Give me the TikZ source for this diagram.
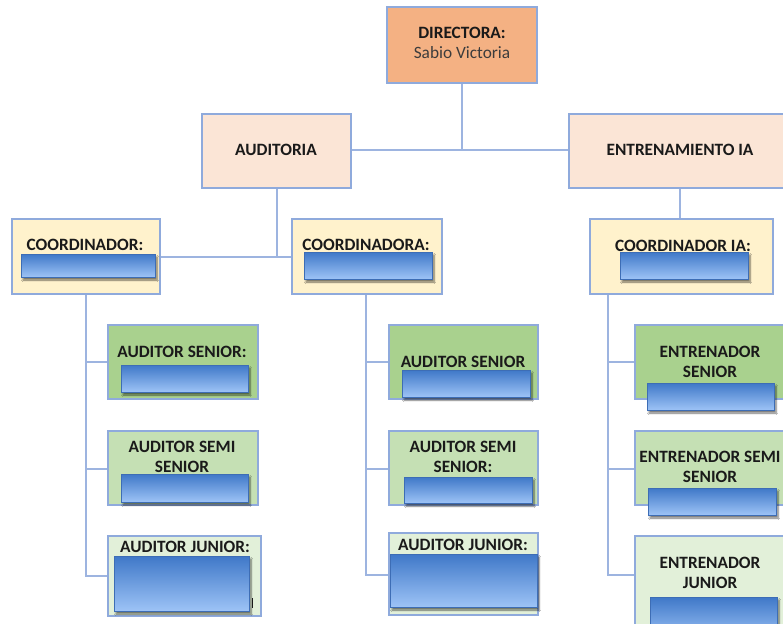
\documentclass[tikz,border=0pt]{standalone}
\usepackage{fontspec}
\setmainfont{Carlito}
\usetikzlibrary{shadows.blur}
\definecolor{edge}{HTML}{8FAADC}
\definecolor{wire}{HTML}{9DB4E0}
\definecolor{dirfill}{HTML}{F4B183}
\definecolor{areafill}{HTML}{FBE5D6}
\definecolor{coordfill}{HTML}{FFF2CC}
\definecolor{srfill}{HTML}{A9D18E}
\definecolor{semifill}{HTML}{C5E0B4}
\definecolor{jrfill}{HTML}{E2F0D9}
\definecolor{bartop}{HTML}{3F78C8}
\definecolor{barbot}{HTML}{9DC3F6}
\definecolor{barline}{HTML}{3D6DB5}
\definecolor{ink}{HTML}{1A1A1A}
\tikzset{
  box/.style={draw=edge, line width=1.1pt},
  wireline/.style={draw=wire, line width=1.6pt},
  bar/.style={draw=barline, line width=1pt, top color=bartop, bottom color=barbot,
    blur shadow={shadow xshift=2pt, shadow yshift=-3pt, shadow blur steps=6, shadow opacity=55}},
  lbl/.style={text=ink, font=\fontsize{17.3}{20}\selectfont\bfseries, align=center, inner sep=0pt},
  lblr/.style={text=ink!85, font=\fontsize{17.3}{20}\selectfont, align=center, inner sep=0pt}
}
\begin{document}
\begin{tikzpicture}[x=1pt,y=-1pt]
\useasboundingbox (0,0) rectangle (783,623);
\clip (0,0) rectangle (783,623);
\fill[white] (0,0) rectangle (783,623);

% connectors
\coordinate (topjoin) at (462,150);
\coordinate (audjoin) at (277,257);
\draw[wireline] (462,83) -- (topjoin);
\draw[wireline] (351,150) -- (569,150);
\draw[wireline] (277,188) -- (audjoin);
\draw[wireline] (160,257) -- (292,257);
\draw[wireline] (680,188) -- (680,219);
% left column spine
\draw[wireline] (86,294) -- (86,576) -- (108,576);
\draw[wireline] (86,362) -- (108,362);
\draw[wireline] (86,469) -- (108,469);
% middle column spine
\draw[wireline] (366,294) -- (366,575) -- (389,575);
\draw[wireline] (366,362) -- (389,362);
\draw[wireline] (366,469) -- (389,469);
% right column spine
\draw[wireline] (608,294) -- (608,575) -- (635,575);
\draw[wireline] (608,362) -- (635,362);
\draw[wireline] (608,469) -- (635,469);

% top levels
\draw[box, fill=dirfill] (387,7) rectangle (537,83);
\node[lbl] (dir) at (462,33) {DIRECTORA:};
\node[lblr] (dirname) at (462,53) {Sabio Victoria};

\draw[box, fill=areafill] (202,114) rectangle (351,188);
\node[lbl] (aud) at (276,150) {AUDITORIA};
\draw[box, fill=areafill] (569,114) rectangle (790,188);
\node[lbl] (ent) at (680,150) {ENTRENAMIENTO IA};

% coordinators
\draw[box, fill=coordfill] (12,219) rectangle (160,294);
\node[lbl] (c1) at (85,245) {COORDINADOR:};
\draw[bar] (21,254) rectangle (155,277);

\draw[box, fill=coordfill] (292,219) rectangle (442,294);
\node[lbl] (c2) at (366,245) {COORDINADORA:};
\draw[bar] (304,252) rectangle (432,279);

\draw[box, fill=coordfill] (590,219) rectangle (773,294);
\node[lbl] (c3) at (683,246) {COORDINADOR IA:};
\draw[bar] (620,252) rectangle (748,279);

% left column
\draw[box, fill=srfill] (108,325) rectangle (258,399);
\node[lbl] (a1) at (182,352) {AUDITOR SENIOR:};
\draw[bar] (121,365) rectangle (248,392);

\draw[box, fill=semifill] (108,431) rectangle (258,505);
\node[lbl] (a2) at (182,457) {AUDITOR SEMI\\SENIOR};
\draw[bar] (121,474) rectangle (248,502);

\draw[box, fill=jrfill] (108,536) rectangle (261,616);
\node[lbl] (a3) at (185,547) {AUDITOR JUNIOR:};
\draw[bar] (114,556) rectangle (249,611);
\draw[ink, line width=1pt] (252,598) -- (252,608);

% middle column
\draw[box, fill=srfill] (389,325) rectangle (538,399);
\node[lbl] (b1) at (463,362) {AUDITOR SENIOR};
\draw[bar] (402,370) rectangle (530,397);

\draw[box, fill=semifill] (389,431) rectangle (538,505);
\node[lbl] (b2) at (463,457) {AUDITOR SEMI\\SENIOR:};
\draw[bar] (404,477) rectangle (532,503);

\draw[box, fill=jrfill] (389,533) rectangle (538,615);
\node[lbl] (b3) at (463,545) {AUDITOR JUNIOR:};
\draw[bar] (390,554) rectangle (537,607);

% right column
\draw[box, fill=srfill] (635,325) rectangle (790,399);
\node[lbl] (e1) at (710,362) {ENTRENADOR\\SENIOR};
\draw[bar] (647,383) rectangle (774,410);

\draw[box, fill=semifill] (635,431) rectangle (790,505);
\node[lbl] (e2) at (710,467) {ENTRENADOR SEMI\\SENIOR};
\draw[bar] (648,488) rectangle (776,515);

\draw[box, fill=jrfill] (635,536) rectangle (790,640);
\node[lbl] (e3) at (710,573) {ENTRENADOR\\JUNIOR};
\draw[bar] (650,597) rectangle (777,640);
\end{tikzpicture}
\end{document}
